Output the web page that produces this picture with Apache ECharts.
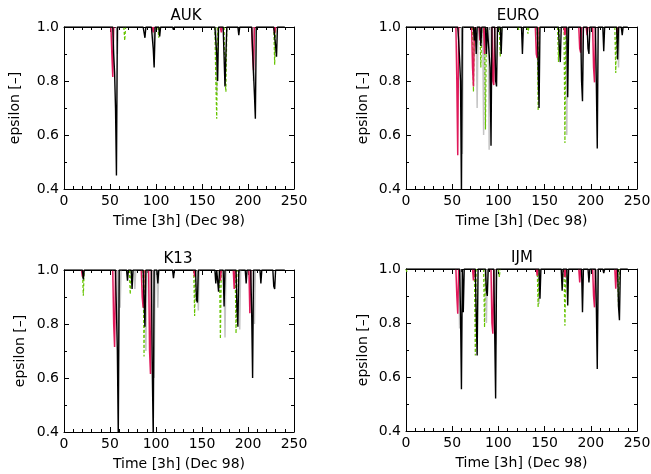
<!DOCTYPE html>
<html>
<head>
<meta charset="utf-8">
<script src="https://cdn.jsdelivr.net/npm/echarts@6/dist/echarts.min.js"></script>
<style>
  html, body { margin: 0; padding: 0; background: #fff; }
  #main { width: 651px; height: 474px; }
</style>
</head>
<body>
<div id="main"></div>
<script>
// epsilon time series, 3-hourly steps in Dec 98, one set of lines per station
// black runs along 1.0 the whole time, the other lines only show their dips ('-' = gap)
var stations = ['AUK', 'EURO', 'K13', 'IJM'];
var yTicks = [0.4, 0.6, 0.8, 1.0];
var xTicks = [0, 50, 100, 150, 200, 250];

// AUK
var aukBlack = [[0,1],[53,1],[54,0.9],[55,0.83],[56,0.7],[57,0.45],[58,1],[86,1],[88,0.96],[89,1],[95,1],[97,0.92],[98,0.85],[99,1],[103,1],[104,0.965],[105,1],[118,1],[119,0.99],[120,1],[164,1],[166,0.9],[167,0.8],[168,1],[173,1],[175,0.78],[176,0.9],[177,1],[189,1],[190,0.97],[191,1],[204,1],[206,0.83],[207,0.75],[208,0.66],[209,1],[228,1],[230,0.93],[231,0.89],[232,1],[240,1]];
var aukRed = [[51,1],[52,0.9],[53,0.815],[54,1],[60,'-'],[96,1],[97,0.98],[98,1],[100,'-'],[170,1],[171,0.98],[172,1],[180,'-'],[204,1],[205,0.9],[206,0.84],[207,1],[210,'-'],[228,1],[229,0.975],[230,1]];
var aukGreen = [[65,1],[66,0.95],[67,1],[70,'-'],[102,1],[103,0.96],[104,1],[110,'-'],[164,1],[165,0.8],[166,0.66],[167,1],[170,'-'],[174,1],[175,0.8],[176,0.76],[177,1],[180,'-'],[228,1],[229,0.86],[230,1]];
var aukGray = [[57,1],[58,0.9],[59,1],[60,'-'],[97,1],[98,0.86],[99,1],[100,'-'],[165,1],[166,0.75],[167,1],[170,'-'],[205,1],[206,0.8],[207,1]];

// EURO
var euroBlack = [[0,1],[56,1],[57,0.95],[58,0.88],[59,0.8],[60,0.38],[61,1],[73,1],[74,0.95],[75,1],[76,0.9],[77,1],[80,1],[81,0.93],[82,1],[86,1],[87,0.9],[88,1],[90,1],[91,0.85],[92,0.56],[93,1],[96,1],[97,0.8],[98,0.78],[99,1],[102,1],[103,0.9],[104,1],[125,1],[126,0.9],[127,1],[142,1],[143,0.88],[144,0.7],[145,1],[165,1],[166,0.92],[167,0.87],[168,1],[174,1],[175,0.74],[176,1],[189,1],[190,0.8],[191,0.725],[192,1],[196,1],[197,0.92],[198,0.9],[199,1],[205,1],[206,0.79],[207,0.55],[208,1],[213,1],[214,0.91],[215,1],[228,1],[229,0.88],[230,1],[233,1],[234,0.97],[235,1],[240,1]];
var euroRed = [[54,1],[55,0.8],[56,0.525],[57,1],[60,'-'],[71,1],[72,0.85],[73,0.78],[74,1],[76,'-'],[79,1],[80,0.95],[81,1],[82,'-'],[84,1],[85,0.9],[86,1],[88,'-'],[93,1],[94,0.8],[95,0.785],[96,1],[100,'-'],[140,1],[141,0.9],[142,0.885],[143,1],[150,'-'],[171,1],[172,0.97],[173,1],[180,'-'],[187,1],[188,0.92],[189,0.905],[190,1],[192,'-'],[195,1],[196,0.97],[197,1],[199,'-'],[202,1],[203,0.85],[204,0.795],[205,1],[210,'-'],[228,1],[229,0.97],[230,1]];
var euroGreen = [[72,1],[73,0.76],[74,1],[76,'-'],[80,1],[81,0.85],[82,1],[83,'-'],[85,1],[86,0.62],[87,1],[90,'-'],[101,1],[102,0.89],[103,1],[110,'-'],[121,1],[122,0.99],[123,1],[125,'-'],[131,1],[132,0.975],[133,1],[135,'-'],[142,1],[143,0.69],[144,1],[150,'-'],[164,1],[165,0.87],[166,1],[168,'-'],[171,1],[172,0.57],[173,1],[180,'-'],[226,1],[227,0.83],[228,1]];
var euroGray = [[60,1],[61,0.53],[62,1],[65,'-'],[76,1],[77,0.7],[78,1],[80,'-'],[83,1],[84,0.6],[85,1],[86,'-'],[89,1],[90,0.545],[91,1],[95,'-'],[142,1],[143,0.75],[144,1],[150,'-'],[173,1],[174,0.6],[175,1],[180,'-'],[190,1],[191,0.8],[192,1],[195,'-'],[229,1],[230,0.85],[231,1]];

// K13
var k13Black = [[0,1],[20,1],[21,0.965],[22,1],[56,1],[57,0.85],[58,0.7],[59,0.38],[60,1],[68,1],[69,0.96],[70,1],[73,1],[74,0.93],[75,1],[86,1],[87,0.89],[88,0.79],[89,1],[95,1],[96,0.62],[97,0.38],[98,1],[101,1],[102,0.95],[103,1],[118,1],[119,0.97],[120,1],[143,1],[144,0.89],[145,0.88],[146,1],[164,1],[165,0.95],[166,1],[167,1],[168,0.92],[169,1],[173,1],[174,0.865],[175,1],[187,1],[188,0.86],[189,0.79],[190,1],[197,1],[198,0.95],[199,1],[203,1],[204,0.84],[205,0.6],[206,1],[213,1],[214,0.95],[215,1],[227,1],[228,0.94],[229,0.93],[230,1],[240,1]];
var k13Red = [[19,1],[20,0.975],[21,1],[25,'-'],[53,1],[54,0.8],[55,0.715],[56,1],[60,'-'],[84,1],[85,0.9],[86,0.86],[87,1],[90,'-'],[92,1],[93,0.7],[94,0.615],[95,1],[100,'-'],[141,1],[142,0.975],[143,1],[150,'-'],[169,1],[170,0.96],[171,1],[180,'-'],[184,1],[185,0.93],[186,1],[190,'-'],[201,1],[202,0.84],[203,1]];
var k13Green = [[20,1],[21,0.905],[22,1],[25,'-'],[71,1],[72,0.91],[73,1],[80,'-'],[86,1],[87,0.68],[88,1],[90,'-'],[141,1],[142,0.83],[143,1],[150,'-'],[169,1],[170,0.745],[171,1],[180,'-'],[186,1],[187,0.765],[188,1]];
var k13Gray = [[58,1],[59,0.66],[60,1],[61,0.86],[62,1],[65,'-'],[76,1],[77,0.93],[78,1],[80,'-'],[88,1],[89,0.7],[90,1],[92,'-'],[97,1],[98,0.6],[99,1],[100,'-'],[101,1],[102,0.86],[103,1],[110,'-'],[145,1],[146,0.85],[147,1],[150,'-'],[174,1],[175,0.75],[176,1],[180,'-'],[190,1],[191,0.78],[192,1],[195,'-'],[206,1],[207,0.8],[208,1]];

// IJM
var ijmBlack = [[0,1],[58,1],[59,0.84],[60,0.555],[61,1],[62,0.84],[63,1],[75,1],[76,0.83],[77,0.68],[78,1],[86,1],[87,0.92],[88,0.9],[89,1],[95,1],[96,0.76],[97,0.52],[98,1],[144,1],[145,0.89],[146,1],[168,1],[169,0.92],[170,1],[174,1],[175,0.865],[176,1],[190,1],[191,0.84],[192,1],[197,1],[198,0.95],[199,1],[205,1],[206,0.86],[207,0.63],[208,1],[213,1],[214,0.985],[215,1],[229,1],[230,0.86],[231,0.81],[232,1],[240,1]];
var ijmRed = [[54,1],[55,0.9],[56,0.834],[57,1],[60,'-'],[72,1],[73,0.958],[74,1],[80,'-'],[92,1],[93,0.8],[94,0.76],[95,1],[100,'-'],[141,1],[142,0.975],[143,1],[150,'-'],[171,1],[172,0.97],[173,1],[180,'-'],[187,1],[188,0.95],[189,1],[195,'-'],[202,1],[203,0.9],[204,0.858],[205,1],[210,'-'],[226,1],[227,0.927],[228,1]];
var ijmGreen = [[0,1],[1,0.99],[2,1],[5,'-'],[74,1],[75,0.68],[76,1],[80,'-'],[84,1],[85,0.784],[86,1],[90,'-'],[100,1],[101,0.97],[102,1],[110,'-'],[142,1],[143,0.858],[144,1],[150,'-'],[171,1],[172,0.79],[173,1],[180,'-'],[229,1],[230,0.86],[231,1]];
var ijmGray = [[57,1],[58,0.78],[59,1],[60,'-'],[86,1],[87,0.8],[88,1],[90,'-'],[96,1],[97,0.72],[98,1],[100,'-'],[143,1],[144,0.87],[145,1],[150,'-'],[206,1],[207,0.8],[208,1]];

var lines = [
    [aukGray, aukGreen, aukRed, aukBlack],
    [euroGray, euroGreen, euroRed, euroBlack],
    [k13Gray, k13Green, k13Red, k13Black],
    [ijmGray, ijmGreen, ijmRed, ijmBlack]
];

// plot boxes (IDL !p.multi style 2x2)
var boxes = [
    {left: 64, top: 27, width: 230, height: 162, title: 186, titleTop: 9, nameGap: 42},
    {left: 406, top: 27, width: 231, height: 162, title: 518, titleTop: 9, nameGap: 36},
    {left: 64, top: 270, width: 230, height: 162, title: 178, titleTop: 252, nameGap: 37},
    {left: 406, top: 269, width: 231, height: 162, title: 522, titleTop: 251, nameGap: 36}
];

var font = 'DejaVu Sans';
var styles = [
    {color: '#c4c4c4', width: 1.5, type: 'solid'},
    {color: '#66c400', width: 1.2, type: [3, 2]},
    {color: '#e0195a', width: 1.5, type: 'solid'},
    {color: '#000000', width: 1.4, type: 'solid'}
];

var option = {
    animation: false,
    backgroundColor: '#fff',
    title: [],
    grid: [],
    xAxis: [],
    yAxis: [],
    series: []
};

// only print labels at the listed tick values
function tickFmt(list, digits) {
    return function (v) {
        for (var i = 0; i < list.length; i++) {
            if (Math.abs(list[i] - v) < 1e-6) return list[i].toFixed(digits);
        }
        return '';
    };
}

function axisBase(show) {
    return {
        axisLine: {show: true, onZero: false, lineStyle: {color: '#000', width: 1}},
        axisTick: {show: true, inside: true, length: 5, lineStyle: {color: '#000'}},
        minorTick: {show: true, length: 3, lineStyle: {color: '#000'}},
        splitLine: {show: false},
        axisLabel: {show: show, color: '#000', fontFamily: font, fontSize: 14, margin: 5}
    };
}

for (var p = 0; p < stations.length; p++) {
    var b = boxes[p];
    option.title.push({
        text: stations[p], left: b.title, top: b.titleTop, textAlign: 'center', padding: 0,
        textStyle: {color: '#000', fontFamily: font, fontSize: 15, fontWeight: 'normal'}
    });
    option.grid.push({left: b.left, top: b.top, width: b.width, height: b.height, containLabel: false, outerBoundsMode: 'none'});

    // bottom and top x axes
    var xb = axisBase(true);
    xb.type = 'value'; xb.gridIndex = p; xb.position = 'bottom';
    xb.min = 0; xb.max = 250; xb.interval = 50;
    xb.minorTick.splitNumber = 5;
    xb.axisLabel.formatter = tickFmt(xTicks, 0);
    xb.name = 'Time [3h] (Dec 98)';
    xb.nameLocation = 'middle'; xb.nameGap = 25; xb.nameMoveOverlap = false;
    xb.nameTextStyle = {color: '#000', fontFamily: font, fontSize: 14};
    option.xAxis.push(xb);

    var xt = axisBase(false);
    xt.type = 'value'; xt.gridIndex = p; xt.position = 'top';
    xt.min = 0; xt.max = 250; xt.interval = 50;
    xt.minorTick.splitNumber = 5;
    option.xAxis.push(xt);

    // left and right y axes
    var yl = axisBase(true);
    yl.type = 'value'; yl.gridIndex = p; yl.position = 'left';
    yl.min = 0.4; yl.max = 1.0; yl.interval = 0.2;
    yl.minorTick.splitNumber = 2;
    yl.axisLabel.formatter = tickFmt(yTicks, 1);
    yl.name = 'epsilon [–]';
    yl.nameLocation = 'middle'; yl.nameGap = b.nameGap; yl.nameMoveOverlap = false;
    yl.nameTextStyle = {color: '#000', fontFamily: font, fontSize: 14};
    option.yAxis.push(yl);

    var yr = axisBase(false);
    yr.type = 'value'; yr.gridIndex = p; yr.position = 'right';
    yr.min = 0.4; yr.max = 1.0; yr.interval = 0.2;
    yr.minorTick.splitNumber = 2;
    option.yAxis.push(yr);

    for (var s = 0; s < lines[p].length; s++) {
        option.series.push({
            type: 'line',
            xAxisIndex: p * 2,
            yAxisIndex: p * 2,
            data: lines[p][s],
            showSymbol: false,
            symbol: 'none',
            connectNulls: false,
            silent: true,
            z: 2 + s,
            lineStyle: {color: styles[s].color, width: styles[s].width, type: styles[s].type}
        });
    }
}

var myChart = echarts.init(document.getElementById('main'));
myChart.setOption(option);
</script>
</body>
</html>
